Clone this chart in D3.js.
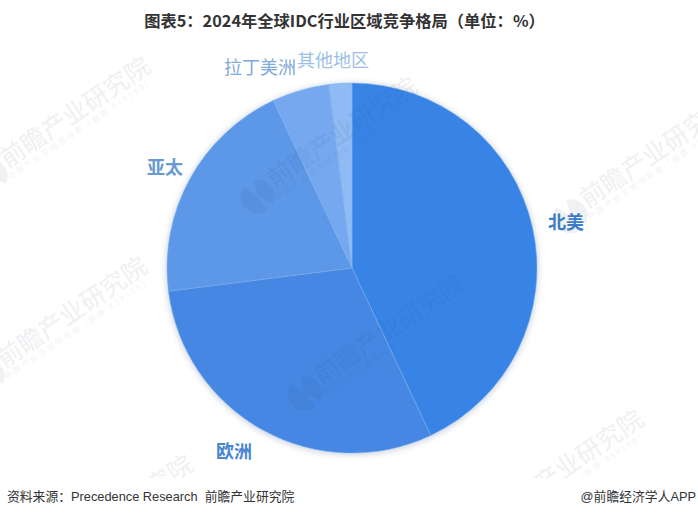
<!DOCTYPE html>
<html>
<head>
<meta charset="utf-8" />
<title>pie</title>
<style>
    body { margin: 0; background: #fff; }
    svg { display: block; }
    text { font-family: "Noto Sans CJK SC", sans-serif; }
    .foot { font-family: "Liberation Sans", "Noto Sans CJK SC", sans-serif; }
</style>
</head>
<body>
<svg id="chart" width="698" height="517"></svg>
<script src="https://cdn.jsdelivr.net/npm/d3@7"></script>
<script>
var regions = ['北美', '欧洲', '亚太', '拉丁美洲', '其他地区']
var shares = [43, 30, 20, 5, 2]
var colors = ['#3884e6', '#4587e2', '#5c97e8', '#75a8ef', '#8fbaf3']
var labelColors = ['#3f7fc9', '#4a86d2', '#6a9ad0', '#82aadb', '#9dbfe6']
// where the labels sit, as [x, y] of the text centre
var labelPos = [[566, 223], [234, 452], [165, 168], [260, 68], [333, 61]]
var watermarks = [[75, 112], [342, 132], [655, 152], [72, 312], [389, 329], [568, 465], [118, 510]]

var svg = d3.select('#chart')
var cx = 352, cy = 268, r = 185

var defs = svg.append('defs')
var blur = defs.append('filter').attr('id', 'shadow')
    .attr('x', '-10%').attr('y', '-10%').attr('width', '120%').attr('height', '120%')
blur.append('feGaussianBlur').attr('stdDeviation', 3)

svg.append('text')
    .attr('x', 344.5).attr('y', 27)
    .attr('text-anchor', 'middle')
    .attr('font-size', 16.3).attr('font-weight', 700).attr('fill', '#333')
    .text('图表5：2024年全球IDC行业区域竞争格局（单位：%）')

var pie = d3.pie().sort(null)
var arc = d3.arc().innerRadius(0).outerRadius(r)
var arcs = pie(shares)

var g = svg.append('g').attr('transform', `translate(${cx},${cy})`)

g.append('circle')
    .attr('r', r + 1)
    .attr('cy', 1)
    .attr('fill', '#8a9fb8')
    .attr('opacity', 0.45)
    .attr('filter', 'url(#shadow)')

g.selectAll('path')
    .data(arcs)
    .enter()
    .append('path')
    .attr('d', arc)
    .attr('fill', (d, i) => colors[i])
    .attr('stroke', '#7fb0ee')
    .attr('stroke-width', 0.5)

svg.selectAll('.label')
    .data(regions)
    .enter()
    .append('text')
    .attr('class', 'label')
    .attr('x', (d, i) => labelPos[i][0])
    .attr('y', (d, i) => labelPos[i][1])
    .attr('dy', '0.36em')
    .attr('text-anchor', 'middle')
    .attr('font-size', 18)
    .attr('font-weight', (d, i) => i < 3 ? 700 : 400)
    .attr('fill', (d, i) => labelColors[i])
    .text(d => d)

// faint site watermark, drawn over the pie
var marks = svg.selectAll('.mark')
    .data(watermarks)
    .enter()
    .append('g')
    .attr('class', 'mark')
    .attr('transform', d => `translate(${d[0]},${d[1]}) rotate(-34)`)
    .attr('opacity', 0.07)
    .attr('fill', '#2a4468')

marks.append('text')
    .attr('text-anchor', 'middle')
    .attr('dy', '0.36em')
    .attr('font-size', 25)
    .attr('font-weight', 500)
    .text('前瞻产业研究院')

marks.append('text')
    .attr('x', -92)
    .attr('y', 20)
    .attr('font-size', 8)
    .attr('textLength', 173)
    .attr('lengthAdjust', 'spacing')
    .text('中国产业咨询领导者（股票 839599）')

// round logo in front of the name
var logo = d3.arc().innerRadius(0).outerRadius(17)
marks.append('path')
    .attr('transform', 'translate(-106,6)')
    .attr('d', logo({ startAngle: 0.35, endAngle: 2.6 }))
marks.append('path')
    .attr('transform', 'translate(-106,6)')
    .attr('d', logo({ startAngle: 3.1, endAngle: 5.9 }))

svg.append('rect')
    .attr('x', 0).attr('y', 478).attr('width', 698).attr('height', 39)
    .attr('fill', '#fff')

svg.append('text')
    .attr('class', 'foot')
    .attr('x', 7).attr('y', 501)
    .attr('font-size', 12.8).attr('fill', '#333')
    .text('资料来源：Precedence Research\u00a0\u00a0前瞻产业研究院')

svg.append('text')
    .attr('class', 'foot')
    .attr('x', 696).attr('y', 501)
    .attr('text-anchor', 'end')
    .attr('font-size', 12.8).attr('fill', '#333')
    .text('@前瞻经济学人APP')
</script>
</body>
</html>
